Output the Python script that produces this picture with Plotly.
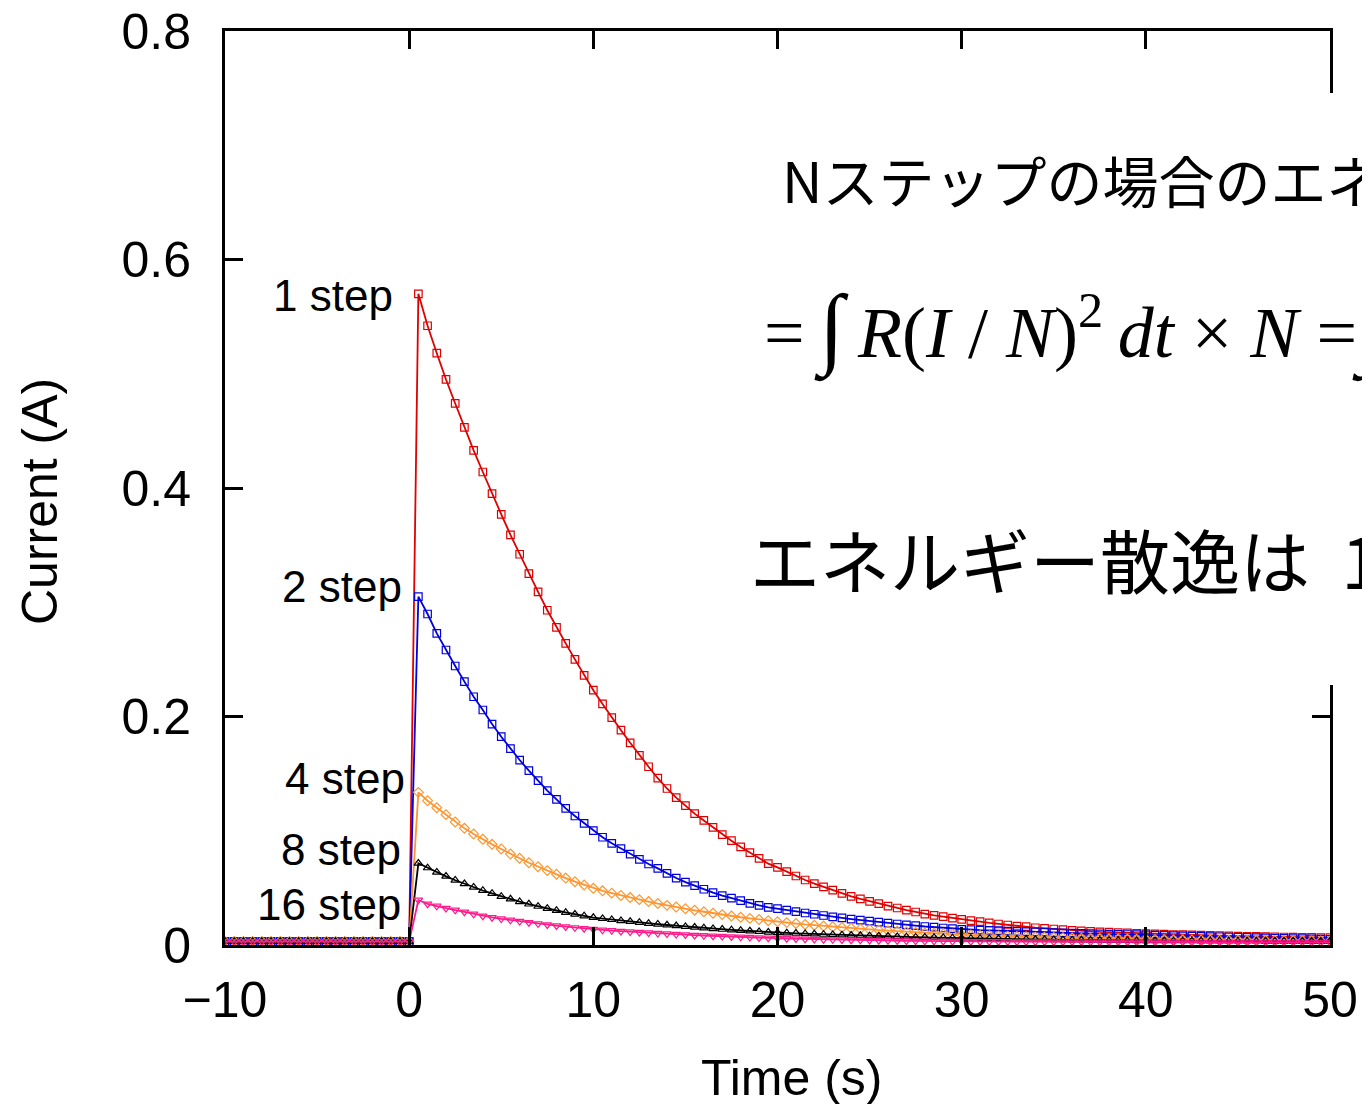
import numpy as np
import plotly.graph_objects as go

# Sampling grid: one point every 0.5 s from -10 s to 50 s
time_s = np.arange(-10.0, 50.0 + 1e-9, 0.5)

# Current before the step (t = -10 ... 0 s), shared by all runs
pre_step = [0.003, 0.003, 0.003, 0.003, 0.003, 0.003, 0.003, 0.003, 0.003, 0.003,
            0.003, 0.003, 0.003, 0.003, 0.003, 0.003, 0.003, 0.003, 0.003, 0.003,
            0.003]

# Current after the step (t = 0.5 ... 50 s)
step_1 = [
    0.570, 0.542, 0.518, 0.495, 0.474, 0.453, 0.433, 0.414, 0.395, 0.377,
    0.359, 0.342, 0.325, 0.309, 0.293, 0.278, 0.264, 0.250, 0.236, 0.223,
    0.211, 0.199, 0.188, 0.177, 0.166, 0.156, 0.146, 0.137, 0.129, 0.122,
    0.1150, 0.1090, 0.1030, 0.0966, 0.0913, 0.0858, 0.0808, 0.0759, 0.0712, 0.0680,
    0.0642, 0.0604, 0.0569, 0.0537, 0.0508, 0.0481, 0.0452, 0.0426, 0.0403, 0.0382,
    0.0362, 0.0341, 0.0324, 0.0306, 0.0289, 0.0271, 0.0260, 0.0248, 0.0236, 0.0225,
    0.0213, 0.0204, 0.0193, 0.0184, 0.0175, 0.0166, 0.0160, 0.0151, 0.0146, 0.0140,
    0.0134, 0.0128, 0.0123, 0.0119, 0.0115, 0.0112, 0.0109, 0.0106, 0.0103, 0.0100,
    0.0097, 0.0095, 0.0092, 0.0090, 0.0088, 0.0086, 0.0084, 0.0082, 0.0080, 0.0078,
    0.0076, 0.0075, 0.0073, 0.0072, 0.0070, 0.0069, 0.0068, 0.0067, 0.0065, 0.0064,
]
step_2 = [
    0.3049, 0.2897, 0.2728, 0.2582, 0.2442, 0.2305, 0.2173, 0.2057, 0.1934, 0.1823,
    0.1718, 0.1619, 0.1526, 0.1438, 0.1351, 0.1275, 0.1196, 0.1129, 0.1065, 0.1001,
    0.0943, 0.0890, 0.0843, 0.0796, 0.0750, 0.0709, 0.0671, 0.0627, 0.0586, 0.0551,
    0.0519, 0.0488, 0.0458, 0.0432, 0.0411, 0.0388, 0.0365, 0.0347, 0.0330, 0.0318,
    0.0305, 0.0292, 0.0280, 0.0269, 0.0258, 0.0247, 0.0237, 0.0227, 0.0218, 0.0209,
    0.0200, 0.0192, 0.0184, 0.0177, 0.0169, 0.0162, 0.0156, 0.0149, 0.0143, 0.0137,
    0.0134, 0.0131, 0.0128, 0.0125, 0.0122, 0.0119, 0.0117, 0.0114, 0.0112, 0.0109,
    0.0107, 0.0104, 0.0102, 0.0100, 0.0098, 0.0096, 0.0094, 0.0092, 0.0090, 0.0088,
    0.0086, 0.0084, 0.0082, 0.0080, 0.0078, 0.0076, 0.0074, 0.0072, 0.0070, 0.0068,
    0.0066, 0.0064, 0.0062, 0.0060, 0.0058, 0.0056, 0.0055, 0.0053, 0.0052, 0.0050,
]
step_4 = [
    0.1336, 0.1263, 0.1202, 0.1141, 0.1077, 0.1021, 0.0972, 0.0925, 0.0881, 0.0840,
    0.0796, 0.0759, 0.0720, 0.0685, 0.0651, 0.0619, 0.0586, 0.0554, 0.0525, 0.0496,
    0.0474, 0.0454, 0.0434, 0.0415, 0.0397, 0.0380, 0.0363, 0.0347, 0.0332, 0.0318,
    0.0304, 0.0291, 0.0278, 0.0266, 0.0254, 0.0243, 0.0233, 0.0223, 0.0213, 0.0204,
    0.0196, 0.0188, 0.0180, 0.0173, 0.0166, 0.0159, 0.0153, 0.0147, 0.0141, 0.0135,
    0.0130, 0.0125, 0.0120, 0.0115, 0.0110, 0.0106, 0.0102, 0.0098, 0.0094, 0.0090,
    0.0087, 0.0084, 0.0082, 0.0079, 0.0077, 0.0074, 0.0072, 0.0069, 0.0067, 0.0065,
    0.0063, 0.0061, 0.0059, 0.0058, 0.0056, 0.0055, 0.0053, 0.0052, 0.0051, 0.0050,
    0.0049, 0.0048, 0.0047, 0.0046, 0.0045, 0.0044, 0.0043, 0.0042, 0.0041, 0.0041,
    0.0040, 0.0039, 0.0039, 0.0038, 0.0037, 0.0037, 0.0036, 0.0036, 0.0035, 0.0035,
]
step_8 = [
    0.0715, 0.0675, 0.0637, 0.0601, 0.0567, 0.0536, 0.0506, 0.0477, 0.0451, 0.0425,
    0.0402, 0.0379, 0.0358, 0.0338, 0.0320, 0.0302, 0.0285, 0.0269, 0.0254, 0.0240,
    0.0231, 0.0222, 0.0213, 0.0205, 0.0197, 0.0189, 0.0182, 0.0175, 0.0168, 0.0161,
    0.0155, 0.0149, 0.0143, 0.0137, 0.0132, 0.0127, 0.0122, 0.0117, 0.0112, 0.0108,
    0.0105, 0.0102, 0.0099, 0.0096, 0.0093, 0.0090, 0.0088, 0.0085, 0.0083, 0.0080,
    0.0078, 0.0076, 0.0073, 0.0071, 0.0069, 0.0067, 0.0065, 0.0064, 0.0062, 0.0060,
    0.0058, 0.0057, 0.0055, 0.0054, 0.0052, 0.0051, 0.0050, 0.0048, 0.0047, 0.0046,
    0.0045, 0.0044, 0.0043, 0.0042, 0.0041, 0.0040, 0.0040, 0.0039, 0.0038, 0.0038,
    0.0037, 0.0037, 0.0036, 0.0036, 0.0036, 0.0035, 0.0035, 0.0035, 0.0034, 0.0034,
    0.0034, 0.0034, 0.0033, 0.0033, 0.0033, 0.0033, 0.0033, 0.0033, 0.0032, 0.0032,
]
step_16 = [
    0.0394, 0.0359, 0.0341, 0.0321, 0.0306, 0.0289, 0.0271, 0.0254, 0.0241, 0.0229,
    0.0218, 0.0207, 0.0197, 0.0187, 0.0178, 0.0169, 0.0160, 0.0152, 0.0145, 0.0137,
    0.0131, 0.0126, 0.0121, 0.0116, 0.0111, 0.0107, 0.0102, 0.0098, 0.0094, 0.0090,
    0.0086, 0.0083, 0.0079, 0.0076, 0.0073, 0.0070, 0.0067, 0.0064, 0.0062, 0.0059,
    0.0057, 0.0055, 0.0053, 0.0051, 0.0049, 0.0047, 0.0046, 0.0044, 0.0043, 0.0041,
    0.0040, 0.0039, 0.0038, 0.0037, 0.0036, 0.0035, 0.0034, 0.0033, 0.0032, 0.0032,
    0.0031, 0.0031, 0.0030, 0.0030, 0.0030, 0.0029, 0.0029, 0.0029, 0.0029, 0.0028,
    0.0028, 0.0028, 0.0028, 0.0027, 0.0027, 0.0027, 0.0027, 0.0027, 0.0026, 0.0026,
    0.0026, 0.0026, 0.0026, 0.0026, 0.0026, 0.0025, 0.0025, 0.0025, 0.0025, 0.0025,
    0.0025, 0.0025, 0.0025, 0.0025, 0.0025, 0.0025, 0.0025, 0.0025, 0.0025, 0.0025,
]

series_names = ["1 step", "2 step", "4 step", "8 step", "16 step"]
series_values = [step_1, step_2, step_4, step_8, step_16]
series_colors = ["#e00000", "#0000e0", "#ff9530", "#000000", "#ff1a8c"]
series_symbols = ["square-open", "square-open", "diamond-open",
                  "triangle-up-open", "triangle-down-open"]

x_ticks = [-10, 0, 10, 20, 30, 40, 50]
y_ticks = [0, 0.2, 0.4, 0.6, 0.8]

W, H = 1362, 1104
L, R, T, B = 225, 32, 31, 159
PW, PH = W - L - R, H - T - B


def px(xp):
    return (xp - L) / PW


def py(yp):
    return (H - B - yp) / PH


LATIN = "Arial, 'Liberation Sans', sans-serif"
CJK = "'Noto Sans CJK JP', sans-serif"
SERIF = "'Times New Roman', 'Liberation Serif', serif"

fig = go.Figure()
for name, vals, color, sym in zip(series_names, series_values, series_colors, series_symbols):
    y = pre_step + vals
    assert len(y) == len(time_s)
    fig.add_trace(go.Scatter(
        x=time_s, y=y, name=name, mode="lines+markers",
        line=dict(color=color, width=1.8),
        marker=dict(symbol=sym, size=7.5, color=color, line=dict(color=color, width=1.2)),
        showlegend=False,
    ))

axis_common = dict(
    showline=True, linecolor="black", linewidth=3, mirror="ticks",
    ticks="inside", ticklen=18, tickwidth=2.5, tickcolor="black",
    showgrid=False, zeroline=False, automargin=False,
    tickfont=dict(family=LATIN, size=50, color="black"),
)
fig.update_xaxes(range=[-10, 50], tickvals=x_ticks, ticklabelstandoff=9, **axis_common)
fig.update_yaxes(range=[0, 0.8], tickvals=y_ticks, ticklabelstandoff=21, **axis_common)

# White text panel that hides the right frame behind the explanation
fig.add_shape(type="rect", xref="paper", yref="paper",
              x0=px(745), x1=px(1400), y0=py(685), y1=py(93),
              fillcolor="white", line=dict(width=0), layer="above")

annotations = [
    dict(text="Time (s)", x=px(791), y=py(1078), font=dict(family=LATIN, size=50)),
    dict(text="Current (A)", x=px(40), y=py(502), textangle=-90,
         font=dict(family=LATIN, size=50)),
]
label_pos = [(395, 296), (404, 587), (407, 778), (403, 849), (403, 904)]
for name, (xr, yc) in zip(series_names, label_pos):
    annotations.append(dict(text=name, x=px(xr), y=py(yc), xanchor="right",
                            font=dict(family=LATIN, size=44)))

formula = ("=\u2009<span style='font-size:90px'>∫</span>\u2009<i>R</i>(<i>I</i> / <i>N</i>)"
           "<sup>2</sup>\u2009<i>dt</i> × <i>N</i> ="
           "<span style='font-size:90px'>∫</span><i>RI</i><sup>2</sup><i>dt</i> / <i>N</i>")
annotations += [
    dict(text="Nステップの場合のエネルギー散逸", x=px(780), y=py(178), xanchor="left",
         font=dict(family=CJK, size=56)),
    dict(text=formula, x=px(762), y=py(330), xanchor="left",
         font=dict(family=SERIF, size=72)),
    dict(text="エネルギー散逸は  1/N", x=px(748), y=py(558), xanchor="left",
         font=dict(family=CJK, size=70)),
]
for a in annotations:
    a.setdefault("xanchor", "center")
    a.update(xref="paper", yref="paper", yanchor="middle", showarrow=False)
    a["font"]["color"] = "black"
fig.update_layout(annotations=annotations)

fig.update_layout(
    width=W, height=H,
    margin=dict(l=L, r=R, t=T, b=B),
    paper_bgcolor="white", plot_bgcolor="white",
)

fig.write_html("out.html")
